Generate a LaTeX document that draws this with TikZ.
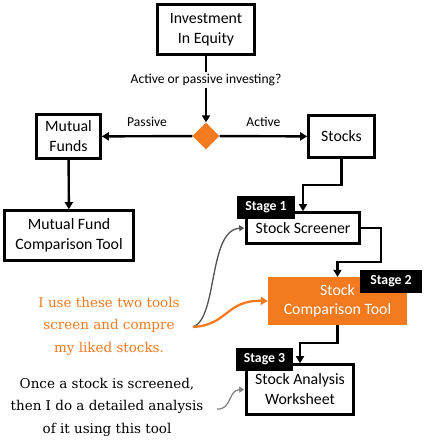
\documentclass[tikz,border=0pt]{standalone}
\usepackage{fontspec}
\setmainfont{Carlito}
\newfontfamily\notefont{DejaVu Serif}
\usetikzlibrary{shapes.geometric,arrows.meta,positioning,calc}
\definecolor{flowor}{HTML}{F47A20}
\definecolor{flowgr}{HTML}{666666}

\begin{document}
\begin{tikzpicture}[
  x=1pt,y=-1pt,
  box/.style={draw=black,line width=2.6pt,fill=white,inner sep=0pt,align=center,
              font=\fontsize{15.8}{20}\selectfont},
  obox/.style={fill=flowor,inner sep=0pt,align=center,text=white,
               font=\fontsize{15.8}{19.5}\selectfont},
  stage/.style={fill=black,text=white,inner sep=0pt,minimum height=23pt,
                font=\fontsize{13.8}{15}\selectfont\bfseries},
  dec/.style={diamond,fill=flowor,inner sep=0pt,minimum width=27pt,minimum height=27pt},
  lbl/.style={font=\fontsize{13.6}{15}\selectfont},
  note/.style={align=center,font=\notefont\fontsize{13.5}{22.5}\selectfont},
  arr/.style={-{Triangle[length=7pt,width=8pt]},line width=2.4pt,draw=black},
  garr/.style={-{Triangle[length=5pt,width=6pt]},line width=1.3pt,draw=flowgr},
  oarr/.style={-{Triangle[length=7pt,width=8pt]},line width=2.3pt,draw=flowor}
]
\useasboundingbox (0,0) rectangle (425,440);

\node[box,minimum width=97pt,minimum height=50pt] (inv) at (206,29.5) {Investment\\In Equity};
\node[dec] (dia) at (206,136) {};
\node[box,minimum width=64pt,minimum height=44pt] (mf) at (68.5,136.5) {Mutual\\Funds};
\node[box,minimum width=66pt,minimum height=42pt] (stk) at (341.5,136.5) {Stocks};
\node[box,minimum width=129pt,minimum height=50pt] (mfc) at (69,235.5) {Mutual Fund\\Comparison Tool};

\node[box,minimum width=113pt,minimum height=31pt] (scr) at (303,228) {Stock Screener};
\node[obox,minimum width=139pt,minimum height=48pt] (cmp) at (337.5,301) {Stock\\Comparison Tool};
\node[box,minimum width=107pt,minimum height=50pt] (ana) at (300,389.5) {Stock Analysis\\Worksheet};

\node[stage,minimum width=58pt] (s1) at (266,207) {Stage 1};
\node[stage,minimum width=62pt] (s2) at (391,281) {Stage 2};
\node[stage,minimum width=57pt] (s3) at (264.5,359) {Stage 3};

\node[note,text=flowor] (n1) at (109,326) {I use these two tools\\screen and compre\\my liked stocks.};
\node[note] (n2) at (107,407) {Once a stock is screened,\\then I do a detailed analysis\\of it using this tool};
\coordinate (c1) at (193,327);
\coordinate (c2) at (217,409);

\draw[arr] (inv) -- node[lbl,fill=white,pos=0.36,inner sep=2pt] (q) {Active or passive investing?} (dia);
\draw[arr] (dia) -- node[lbl,above=5pt] {Passive} (mf);
\draw[arr] (dia) -- node[lbl,above=5pt] {Active} (stk);
\draw[arr] (mf) -- (mfc);
\draw[arr] (stk.south) -- ++(0,26) -| (scr.north);
\draw[arr] (scr.east) -| ++(20,34) -| (cmp.north);
\draw[arr] (cmp.south) -- ++(0,18) -| (ana.north);

\draw[garr,draw=flowgr!80!black] (c1) .. controls (218,318) and (208,230) .. ([xshift=-1pt]scr.west);
\draw[oarr] (c1) .. controls (228,325) and (226,300) .. (cmp.west);
\draw[garr,draw=flowgr!80] (c2) .. controls (232,410) and (228,390) .. ([xshift=-1pt]ana.west);
\end{tikzpicture}
\end{document}
